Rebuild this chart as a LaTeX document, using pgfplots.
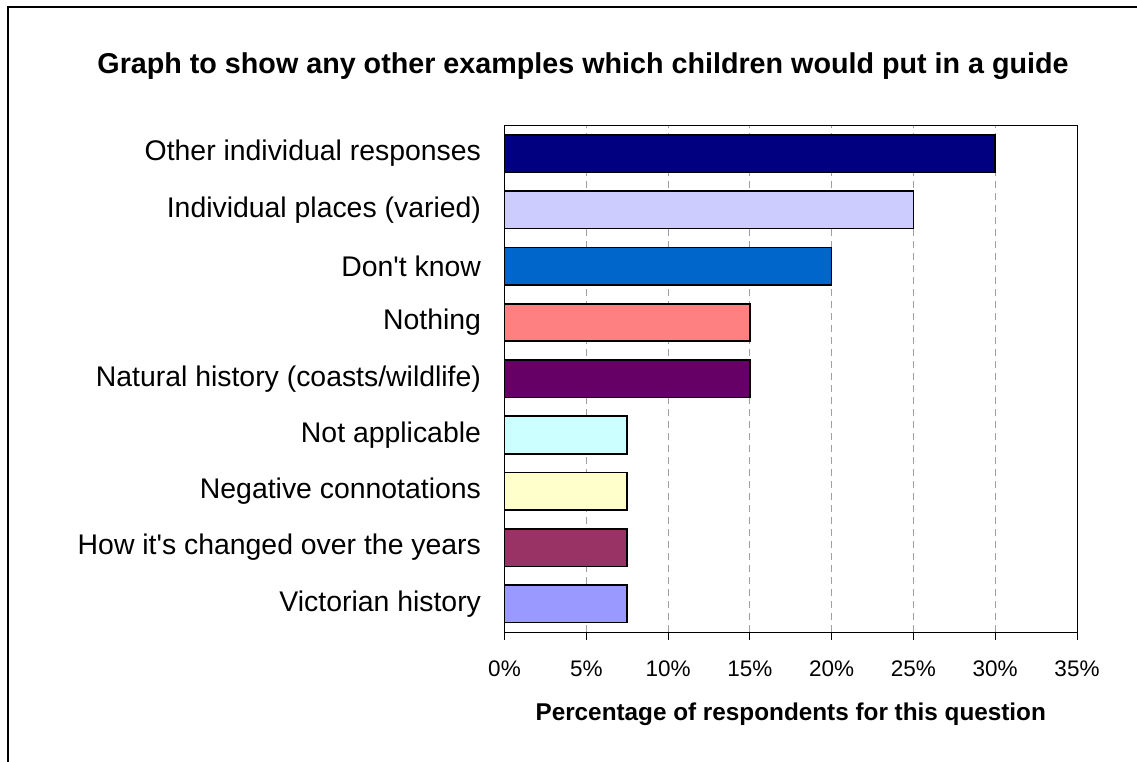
\documentclass[border=0pt]{standalone}
\usepackage{pgfplots}
\pgfplotsset{compat=1.18}
\usepackage{fontspec}
\setmainfont{Liberation Sans}
\definecolor{c1}{HTML}{000080}
\definecolor{c2}{HTML}{CCCCFF}
\definecolor{c3}{HTML}{0066CC}
\definecolor{c4}{HTML}{FF8080}
\definecolor{c5}{HTML}{660066}
\definecolor{c6}{HTML}{CCFFFF}
\definecolor{c7}{HTML}{FFFFCC}
\definecolor{c8}{HTML}{993366}
\definecolor{c9}{HTML}{9999FF}
\begin{document}
\begin{tikzpicture}
\path[use as bounding box] (0pt,0pt) rectangle (1137pt,-761pt);
\draw[line width=2.6pt] (8pt,-762pt) -- (8pt,-7pt) -- (1138pt,-7pt);
\node[anchor=base, font=\fontsize{28.7}{34}\selectfont\bfseries] at (583pt,-73pt) {Graph to show any other examples which children would put in a guide};
\begin{axis}[
  at={(504.5pt,-632pt)}, anchor=south west,
  scale only axis, width=572.5pt, height=506.5pt,
  xbar, bar width=37.5pt, bar shift=0pt,
  xmin=0, xmax=35, ymin=-0.5, ymax=8.5,
  xtick={0,5,...,35},
  xticklabel={\pgfmathprintnumber{\tick}\%},
  /pgf/number format/assume math mode=true,
  x tick label style={font=\fontsize{22.5}{27}\selectfont, yshift=-17pt},
  xmajorgrids, major grid style={gray!75, dash pattern=on 7pt off 5pt, line width=0.9pt},
  ytick={0,...,8},
  yticklabels={Victorian history, How it\textquotesingle s changed over the years, Negative connotations, Not applicable, Natural history (coasts/wildlife), Nothing, Don\textquotesingle t know, Individual places (varied), Other individual responses},
  y tick label style={font=\fontsize{28.4}{34}\selectfont, xshift=-12pt},
  extra y ticks={-0.5,0.5,...,8.5}, extra y tick labels={},
  extra y tick style={major tick length=8pt, tick align=outside, tick style={gray!80!black, line width=0.9pt}},
  ytick style={draw=none},
  xtick style={black, line width=0.9pt},
  xtick pos=bottom, ytick pos=left,
  tick align=outside, major tick length=8pt,
  axis line style={line width=0.9pt},
  xlabel={\bfseries Percentage of respondents for this question},
  xlabel style={font=\fontsize{24.3}{29}\selectfont, at={(rel axis cs:0.5,0)}, anchor=base, yshift=-88pt},
  every axis plot/.append style={draw=black, line width=1.6pt},
]
\addplot[fill=c1] coordinates {(30,8)};
\addplot[fill=c2] coordinates {(25,7)};
\addplot[fill=c3] coordinates {(20,6)};
\addplot[fill=c4] coordinates {(15,5)};
\addplot[fill=c5] coordinates {(15,4)};
\addplot[fill=c6] coordinates {(7.5,3)};
\addplot[fill=c7] coordinates {(7.5,2)};
\addplot[fill=c8] coordinates {(7.5,1)};
\addplot[fill=c9] coordinates {(7.5,0)};
\end{axis}
\end{tikzpicture}
\end{document}
